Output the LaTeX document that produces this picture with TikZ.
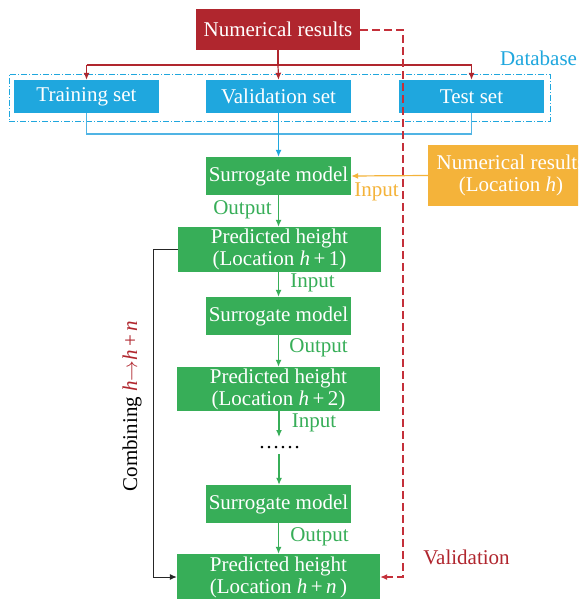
\documentclass[tikz,border=0pt]{standalone}
\usepackage{fontspec}
\setmainfont{Liberation Serif}
\usetikzlibrary{arrows.meta}
\definecolor{cred}{RGB}{176,38,46}
\definecolor{cdash}{RGB}{196,48,58}
\definecolor{cblue}{RGB}{31,167,222}
\definecolor{clblue}{RGB}{80,180,228}
\definecolor{cgreen}{RGB}{55,174,88}
\definecolor{corange}{RGB}{244,179,58}
\tikzset{
  box/.style={inner sep=0pt, text=white, minimum width=145pt, minimum height=38pt, align=center, font=\fontsize{21}{23}\selectfont},
  lbl/.style={inner sep=0pt, font=\fontsize{21}{23}\selectfont},
  tip/.style={-{Latex[length=7pt,width=6pt]}},
  ln/.style={line width=1.2pt},
}
\begin{document}
\begin{tikzpicture}[x=1pt,y=-1pt]
\useasboundingbox (0,0) rectangle (578,599);
\clip (0,0) rectangle (578,599);
\fill[white] (0,0) rectangle (578,599);
% nodes
\node[box, fill=cred, minimum width=164pt, minimum height=41pt] (num) at (278,29.5) {Numerical results};
\node[box, fill=cblue, minimum height=33pt] (train) at (86.5,96.5) {Training set};
\node[box, fill=cblue, minimum height=33pt] (val) at (278.5,96.5) {Validation set};
\node[box, fill=cblue, minimum height=33pt] (test) at (471.5,96.5) {Test set};
\node[draw=cblue, dash pattern=on 6pt off 2pt on 1pt off 2pt, line width=0.9pt, inner sep=0pt, minimum width=541pt, minimum height=47pt] (db) at (279.5,97.5) {};
\node[lbl, text=cblue] (dblbl) at (538.5,58) {Database};
\node[box, fill=cgreen] (s1) at (278.5,176) {Surrogate model};
\node[box, fill=corange, minimum width=166pt, minimum height=61pt] (orn) at (511,175.5) {Numerical results\\[-1pt](Location \textit{h})};
\node[box, fill=cgreen, minimum width=203pt, minimum height=45pt] (p1) at (279.5,249.5) {Predicted height\\[-1pt](Location \textit{h}\,+\,1)};
\node[box, fill=cgreen] (s2) at (278.5,316) {Surrogate model};
\node[box, fill=cgreen, minimum width=203pt, minimum height=44pt] (p2) at (278.5,389) {Predicted height\\[-1pt](Location \textit{h}\,+\,2)};
\node[lbl, anchor=base] (dots) at (279.5,448) {……};
\node[box, fill=cgreen] (s3) at (278.5,504) {Surrogate model};
\node[box, fill=cgreen, minimum width=203pt, minimum height=46pt] (pn) at (278.5,577) {Predicted height\\[-1pt](Location \textit{h}\,+\,\textit{n}\,)};
% labels
\node[lbl, text=cgreen] (o1) at (242.5,210) {Output};
\node[lbl, text=corange] (i0) at (376.5,192) {Input};
\node[lbl, text=cgreen] (i1) at (312.5,283) {Input};
\node[lbl, text=cgreen] (o2) at (318.5,348) {Output};
\node[lbl, text=cgreen] (i2) at (314,423) {Input};
\node[lbl, text=cgreen] (o3) at (319.5,537) {Output};
\node[lbl, text=cred] (vl) at (466.5,557) {Validation};
\node[lbl, rotate=90] (comb) at (132,406) {Combining \textcolor{cred}{\textit{h}$\rightarrow$\textit{h}\,+\,\textit{n}}};
% coordinates
\coordinate (br) at (278,65);
\coordinate (bl) at (0,134);
\coordinate (dk) at (403,30);
\coordinate (dk2) at (403,577);
\coordinate (lk) at (153,0);
\coordinate (d1) at (279,437);
\coordinate (d2) at (279,454);
% red branch
\draw[ln, cred] (num.south) -- (br);
\draw[ln, cred] (train.north |- br) -- (test.north |- br);
\draw[ln, cred, tip] (br) -- (val.north);
\draw[ln, cred, tip] (train.north |- br) -- (train.north);
\draw[ln, cred, tip] (test.north |- br) -- (test.north);
% blue
\draw[ln, clblue] (train.south) -- (train.south |- bl) -- (test.south |- bl) -- (test.south);
\draw[ln, cblue, tip] (val.south) -- (s1.north);
% orange
\draw[ln, corange, tip] (orn.west) -- (s1.east);
% green chain
\draw[ln, cgreen, tip] (s1.south) -- (p1.north -| s1.south);
\draw[ln, cgreen, tip] (p1.south -| s2.north) -- (s2.north);
\draw[ln, cgreen, tip] (s2.south) -- (p2.north -| s2.south);
\draw[ln, cgreen, tip] (p2.south -| d1) -- (d1);
\draw[ln, cgreen, tip] (d2) -- (s3.north -| d2);
\draw[ln, cgreen, tip] (s3.south) -- (pn.north -| s3.south);
% black combining
\draw[line width=1pt, black!85, tip] (p1.west) -- (p1.west -| lk) -- (pn.west -| lk) -- (pn.west);
% red dashed validation
\draw[ln, cdash, dash pattern=on 8pt off 4pt, tip] (num.east |- dk) -- (dk) -- (dk2) -- (pn.east);
\end{tikzpicture}
\end{document}
